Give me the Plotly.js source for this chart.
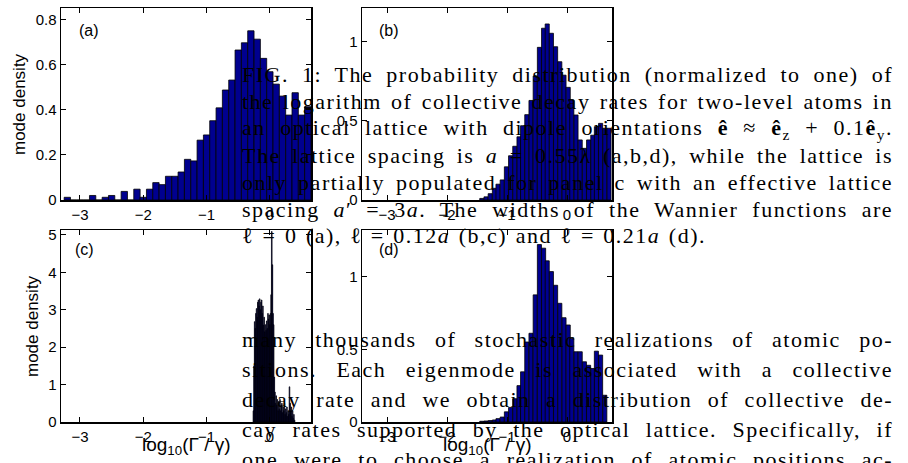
<!DOCTYPE html>
<html><head><meta charset="utf-8">
<script src="https://cdn.plot.ly/plotly-3.0.1.min.js"></script>
<style>body{margin:0;background:#fff}#plot{width:908px;height:463px}</style>
</head><body><div id="plot"></div>
<script>
// ---- data ----
const binsA = [-3.2,-3.1,-3.0,-2.9,-2.8,-2.7,-2.6,-2.5,-2.4,-2.3,-2.2,-2.1,-2.0,-1.9,-1.8,-1.7,-1.6,-1.5,-1.4,-1.3,-1.2,-1.1,-1.0,-0.9,-0.8,-0.7,-0.6,-0.5,-0.4,-0.3,-0.2,-0.1,0.0,0.1,0.2,0.3,0.4,0.5,0.6];
const densA = [0.012,0,0,0,0.02,0,0.012,0.02,0,0.038,0,0.048,0.012,0.048,0.077,0.068,0.105,0.105,0.124,0.18,0.173,0.265,0.288,0.351,0.408,0.487,0.531,0.664,0.696,0.749,0.712,0.627,0.568,0.513,0.46,0.376,0.475,0.376,0.413];

const binsB = [-1.42,-1.35,-1.28,-1.21,-1.15,-1.08,-1.01,-0.94,-0.87,-0.80,-0.74,-0.67,-0.60,-0.53,-0.46,-0.39,-0.33,-0.26,-0.19,-0.12,-0.05,0.02,0.08,0.15,0.22,0.29,0.36,0.43,0.49,0.56,0.63,0.70];
const densB = [0.01,0.02,0.04,0.074,0.10,0.127,0.21,0.28,0.34,0.40,0.47,0.54,0.63,0.785,0.966,1.087,1.114,1.055,0.97,0.875,0.79,0.713,0.633,0.538,0.38,0.327,0.38,0.41,0.464,0.485,0.454,0.454];

const binsC = [-0.26,-0.25,-0.24,-0.23,-0.22,-0.21,-0.20,-0.19,-0.18,-0.17,-0.16,-0.15,-0.14,-0.13,-0.12,-0.11,-0.10,-0.09,-0.08,-0.07,-0.06,-0.05,-0.04,-0.03,-0.02,-0.01,0.00,0.01,0.02,0.03,0.04,0.05,0.06,0.07,0.08,0.09,0.10,0.11,0.12,0.13,0.14,0.15,0.16,0.17,0.18,0.19,0.20,0.21,0.22,0.23,0.24,0.25,0.26,0.27,0.28,0.29,0.30,0.31,0.32,0.33,0.34,0.35,0.36,0.37,0.38,0.39];
const densC = [0.3,1.5,2.68,2.5,2.9,3.03,2.8,3.2,3.26,3.1,3.29,3.0,3.2,3.26,2.9,3.1,2.59,2.8,2.41,2.6,2.45,2.7,2.5,2.9,2.75,2.86,2.6,2.9,3.4,5.09,4.2,2.9,2.6,1.2,0.8,0.5,0.7,0.45,0.6,0.3,0.55,0.35,0.6,0.3,0.45,0.5,0.25,0.4,0.3,0.5,0.2,0.35,0.25,0.4,0.15,0.3,0.2,0.94,0.5,0.3,0.4,0.15,0.3,0.1,0.2,0.05];

const binsD = [-1.42,-1.35,-1.28,-1.21,-1.15,-1.08,-1.01,-0.94,-0.87,-0.80,-0.74,-0.67,-0.60,-0.53,-0.46,-0.39,-0.33,-0.26,-0.19,-0.12,-0.05,0.02,0.08,0.15,0.22,0.29,0.36,0.43,0.49,0.56,0.63];
const densD = [0.005,0.007,0.01,0.014,0.023,0.034,0.07,0.10,0.16,0.25,0.345,0.55,0.61,0.874,1.22,1.195,1.108,1.034,0.94,0.816,0.717,0.667,0.575,0.483,0.483,0.414,0.39,0.368,0.487,0.46,0.184];

const xTicks = [-3,-2,-1,0];
const yTicksA = [0,0.2,0.4,0.6,0.8];
const yTicksB = [0,0.5,1];
const yTicksC = [0,1,2,3,4,5];
const yTicksD = [0,0.5,1];
const panelLabels = ['(a)','(b)','(c)','(d)'];
const yTitle = 'mode density';
const xTitle = 'log<sub>10</sub>(Γ / γ)';

const captionLines = [
 'FIG. 1: The probability distribution (normalized to one) of',
 'the logarithm of collective decay rates for two-level atoms in',
 'an optical lattice with dipole orientations <b>ê</b> ≈ <b>ê</b><sub>z</sub> + 0.1<b>ê</b><sub>y</sub>.',
 'The lattice spacing is <i>a</i> = 0.55λ (a,b,d), while the lattice is',
 'only partially populated for panel c with an effective lattice',
 'spacing <i>a</i>′ = 3<i>a</i>. The widths of the Wannier functions are',
 'ℓ = 0 (a), ℓ = 0.12<i>a</i> (b,c) and ℓ = 0.21<i>a</i> (d).'
];
const bodyLines = [
 'many thousands of stochastic realizations of atomic po-',
 'sitions. Each eigenmode is associated with a collective',
 'decay rate and we obtain a distribution of collective de-',
 'cay rates supported by the optical lattice. Specifically, if',
 'one were to choose a realization of atomic positions ac-'
];

// ---- layout ----
const W = 908, H = 463;
const px = p => p / W, py = p => 1 - p / H;
const navy = '#00008F';
const sans = 'Liberation Sans, Arial, sans-serif';
const serif = 'Liberation Serif, Times New Roman, serif';

function bar(x, y, w, xa, ya, lw) {
  return {type: 'bar', x: x, y: y, width: w, xaxis: xa, yaxis: ya,
    marker: {color: navy, line: {color: '#000', width: lw}}, hoverinfo: 'skip'};
}
const data = [
  bar(binsA, densA, 0.1, 'x', 'y', 0.8),
  bar(binsB, densB, 0.0683, 'x2', 'y2', 0.8),
  bar(binsC, densC, 0.01, 'x3', 'y3', 0.7),
  bar(binsD, densD, 0.0683, 'x4', 'y4', 0.8)
];

function xax(dom, range, anchor) {
  return {domain: dom, range: range, anchor: anchor, tickvals: xTicks,
    ticks: 'inside', ticklen: 5, tickwidth: 1, tickcolor: '#000', mirror: 'allticks',
    showline: true, linecolor: '#000', linewidth: 1.5, showgrid: false, zeroline: false,
    tickfont: {family: sans, size: 15, color: '#000'}, fixedrange: true};
}
function yax(dom, range, anchor, tv) {
  return {domain: dom, range: range, anchor: anchor, tickvals: tv,
    ticks: 'inside', ticklen: 5, tickwidth: 1, tickcolor: '#000', mirror: 'allticks',
    showline: true, linecolor: '#000', linewidth: 1.5, showgrid: false, zeroline: false,
    tickfont: {family: sans, size: 15, color: '#000'}, fixedrange: true};
}
const colL = [px(61), px(311)], colR = [px(362), px(612)];
const rowT = [py(200), py(8)], rowB = [py(422), py(230)];

const ann = [];
const labPos = [[77, 30], [377, 30], [73, 250], [377, 250]];
panelLabels.forEach((t, i) => ann.push({text: t, xref: 'paper', yref: 'paper',
  x: px(labPos[i][0]), y: py(labPos[i][1]), xanchor: 'left', yanchor: 'middle',
  showarrow: false, font: {family: sans, size: 16, color: '#000'}}));
ann.push({text: yTitle, xref: 'paper', yref: 'paper', x: px(19), y: py(104), textangle: -90,
  showarrow: false, xanchor: 'center', yanchor: 'middle', font: {family: sans, size: 17, color: '#000'}});
ann.push({text: yTitle, xref: 'paper', yref: 'paper', x: px(32), y: py(326), textangle: -90,
  showarrow: false, xanchor: 'center', yanchor: 'middle', font: {family: sans, size: 17, color: '#000'}});
ann.push({text: xTitle, xref: 'paper', yref: 'paper', x: px(186), y: py(446),
  showarrow: false, xanchor: 'center', yanchor: 'middle', font: {family: sans, size: 19, color: '#000'}});
ann.push({text: xTitle, xref: 'paper', yref: 'paper', x: px(487), y: py(446),
  showarrow: false, xanchor: 'center', yanchor: 'middle', font: {family: sans, size: 19, color: '#000'}});

// paragraph lines: [text, centre y px, justified right edge px]
const capStart = 75, capStep = 26.8, bodyStart = 339, bodyStep = 30;
const paraLines = [];
captionLines.forEach((t, i) => paraLines.push([t, capStart + capStep * i, i < 6 ? 893 : 706]));
bodyLines.forEach((t, i) => paraLines.push([t, bodyStart + bodyStep * i, 893]));
const paraIdx0 = ann.length;
paraLines.forEach(l => ann.push({text: l[0], xref: 'paper', yref: 'paper',
  x: px(240), y: py(l[1]), xanchor: 'left', yanchor: 'middle', align: 'left', showarrow: false,
  font: {family: serif, size: 22, color: '#000'}}));

const layout = {
  width: W, height: H, margin: {l: 0, r: 0, t: 0, b: 0},
  paper_bgcolor: '#fff', plot_bgcolor: '#fff', showlegend: false, bargap: 0,
  xaxis: xax(colL, [-3.3, 0.65], 'y'), yaxis: yax(rowT, [0, 0.85], 'x', yTicksA),
  xaxis2: xax(colR, [-3.417, 0.75], 'y2'), yaxis2: yax(rowT, [0, 1.215], 'x2', yTicksB),
  xaxis3: xax(colL, [-3.3, 0.65], 'y3'), yaxis3: yax(rowB, [0, 5.13], 'x3', yTicksC),
  xaxis4: xax(colR, [-3.417, 0.75], 'y4'), yaxis4: yax(rowB, [0, 1.32], 'x4', yTicksD),
  annotations: ann
};

Plotly.newPlot('plot', data, layout, {staticPlot: true}).then(gd => {
  // justify the typeset paragraph lines between x = 242 and their right edge
  const groups = gd.querySelectorAll('.annotation');
  paraLines.forEach((l, k) => {
    const g = groups[paraIdx0 + k];
    if (!g) return;
    const txt = g.querySelector('text.annotation-text');
    if (!txt) return;
    txt.style.letterSpacing = '1.5px';
    const spaces = (txt.textContent.match(/ /g) || []).length;
    const r = txt.getBoundingClientRect();
    const target = l[2] - r.left;
    if (r.width > 0 && spaces > 0) {
      txt.style.wordSpacing = Math.max(0, (target - r.width) / spaces) + 'px';
    }
  });
});
</script></body></html>
